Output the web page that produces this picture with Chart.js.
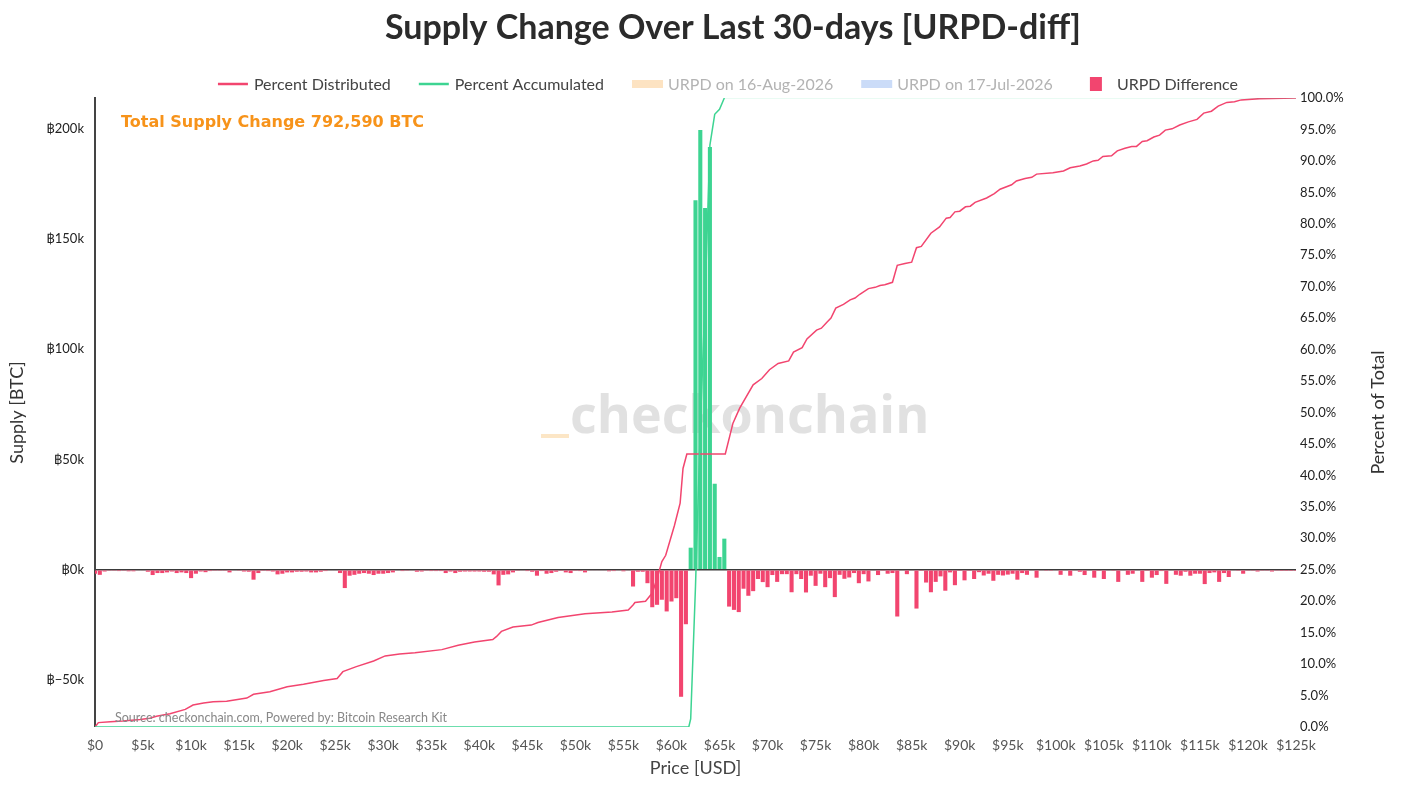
<!DOCTYPE html>
<html>
<head>
<meta charset="utf-8">
<script src="https://cdn.jsdelivr.net/npm/chart.js@4.4.1/dist/chart.umd.min.js"></script>
<style>
  html, body { margin: 0; padding: 0; background: #fff; }
  #wrap { width: 1406px; height: 790px; }
</style>
</head>
<body>
<div id="wrap"><canvas id="chart"></canvas></div>
<script>
// URPD-diff: supply change per $500 price bin, in thousands of BTC (bin i = $500 * i)
const BIN_SIZE = 500;
const supplyDiff = [
  -1.8, -2.3, -0.8, -0.2, -0.2, -0.6, -0.2, -0.7, -0.7, -0.3,
  -0.3, -0.9, -2.4, -1.5, -1.5, -1.2, -0.8, -1.5, -1.2, -1.5,
  -3.8, -1.8, -0.8, -1.1, -0.6, -0.2, -0.2, -0.2, -1.2, -0.3,
  -0.2, -0.8, -0.9, -4.5, -1.5, -0.5, -0.6, -0.8, -2.1, -1.8,
  -1.2, -1.2, -0.9, -0.9, -0.8, -1.2, -1.2, -0.9, -0.6, -0.3,
  -0.3, -1.5, -8.3, -2.7, -2.3, -1.8, -1.5, -1.8, -2.4, -1.8,
  -1.8, -1.5, -1.2, -0.3, -0.6, -0.2, -0.3, -0.9, -0.8, -0.2,
  -0.6, -0.6, -0.6, -1.5, -0.8, -1.5, -0.9, -0.8, -0.8, -0.8,
  -0.8, -0.9, -0.9, -2.1, -7.1, -2.3, -2.1, -1.2, -0.2, -0.3,
  -0.6, -0.9, -2.7, -0.6, -1.8, -1.5, -0.9, -0.5, -1.2, -1.5,
  -0.5, -0.6, -1.2, -0.3, -0.3, -0.3, -0.3, -0.7, -0.6, -0.3,
  -0.7, -0.3, -7.6, -0.9, -0.9, -6.1, -17.0, -15.9, -13.6, -18.9,
  -14.4, -12.9, -57.6, -24.7, 10.0, 167.5, 199.4, 164.0, 191.7, 39.0,
  5.8, 14.1, -16.7, -18.2, -19.2, -8.6, -11.8, -9.7, -4.2, -5.6,
  -7.9, -2.4, -5.5, -2.0, -2.0, -10.2, -2.0, -4.2, -10.3, -2.7,
  -7.3, -1.8, -7.9, -3.8, -12.4, -2.3, -4.1, -3.5, -1.5, -6.1,
  -2.0, -5.3, -0.3, -2.4, -0.2, -1.8, -1.5, -21.2, -0.3, -2.0,
  -0.3, -17.6, -0.5, -5.8, -10.2, -5.5, -3.0, -9.5, -1.2, -7.0,
  -0.5, -4.8, -0.5, -4.2, -1.1, -2.6, -1.8, -5.0, -2.3, -2.6,
  -2.2, -1.8, -4.5, -1.5, -2.3, -0.3, -3.6, -0.3, -0.5, -0.5,
  -0.3, -2.3, -0.3, -2.7, -0.3, -0.9, -2.4, -0.3, -3.6, -0.5,
  -4.2, -0.3, -0.5, -5.5, -0.3, -2.3, -1.8, -0.3, -5.5, -0.5,
  -3.6, -2.4, -0.6, -6.4, -0.3, -2.3, -2.7, -0.9, -2.7, -1.8,
  -1.8, -6.5, -1.5, -1.2, -5.5, -1.5, -3.3, -0.3, -0.5, -1.8,
  -0.2, -0.2, -0.8, -0.2, -0.2, -0.8, -0.2, -0.1, -0.1, -0.1,
  -0.1
];

// Percent Distributed (cumulative share of supply that left)
const distPrice = [
  0, 350, 1600, 2900, 4700, 5700, 6400, 7800, 9400, 10200,
  11300, 12300, 13700, 15800, 16500, 18200, 20000, 21700, 23800, 25200,
  25800, 27200, 29000, 30200, 31700, 33300, 36100, 37800, 39500, 41400,
  41800, 42300, 43500, 45400, 46100, 48200, 51000, 53800, 55500, 56000,
  56200, 57300, 58000, 58500, 59000, 59400, 60300, 60900, 61200, 61600,
  65600, 66400, 67100, 68500, 69400, 70200, 71100, 72200, 72700, 73600,
  74100, 75100, 75600, 76200, 76600, 77100, 77900, 78600, 79100, 79600,
  80500, 81200, 81700, 82200, 83000, 83500, 84300, 85000, 85500, 86000,
  87000, 87900, 88600, 89000, 89500, 90000, 90600, 91100, 91600, 92800,
  93600, 94200, 95400, 95900, 96800, 97500, 98000, 99700, 100800, 101500,
  102500, 103200, 103900, 104400, 104900, 105800, 106400, 107200, 107900, 108400,
  109000, 109500, 110200, 110800, 111400, 112100, 112900, 113800, 114700, 115400,
  116200, 116900, 117800, 118600, 119300, 121200, 125000
];
const distPct = [
  0, 0.7, 0.85, 0.95, 1.2, 1.4, 1.7, 2.1, 2.8, 3.5,
  3.8, 4.0, 4.1, 4.6, 5.2, 5.6, 6.4, 6.8, 7.4, 7.7,
  8.8, 9.6, 10.5, 11.3, 11.6, 11.8, 12.3, 13.0, 13.5, 13.9,
  14.4, 15.2, 15.9, 16.2, 16.6, 17.4, 18.0, 18.3, 18.6, 19.4,
  19.8, 20.0, 21.3, 23.6, 26.3, 27.3, 32.0, 35.6, 41.1, 43.4,
  43.4, 48.3, 50.7, 54.4, 55.4, 56.8, 57.8, 58.2, 59.6, 60.3,
  61.7, 63.1, 63.4, 64.4, 65.0, 66.6, 67.2, 67.9, 68.2, 68.8,
  69.7, 69.9, 70.2, 70.3, 70.7, 73.4, 73.7, 73.9, 76.2, 76.4,
  78.5, 79.5, 80.9, 81.0, 81.9, 82.0, 82.7, 82.8, 83.4, 84.1,
  84.8, 85.5, 86.2, 86.8, 87.2, 87.4, 87.9, 88.1, 88.4, 88.9,
  89.2, 89.5, 90.0, 90.1, 90.7, 90.8, 91.6, 92.0, 92.3, 92.3,
  93.1, 93.2, 93.8, 94.1, 94.9, 95.1, 95.7, 96.2, 96.6, 97.6,
  97.9, 98.7, 99.3, 99.4, 99.7, 99.9, 100
];

// Percent Accumulated (cumulative share of supply that arrived)
const accPrice = [0, 61800, 62000, 62500, 63000, 63500, 64000, 64500, 65000, 65500, 125000];
const accPct   = [0, 0, 1.3, 22.4, 47.6, 68.3, 92.5, 97.4, 98.2, 100, 100];

const supplyTicks = [-50, 0, 50, 100, 150, 200];
const totalChange = '792,590';

const FONT = "Lato, 'DejaVu Sans', sans-serif";
const RED = '#f2456f';
const GREEN = '#3dd492';

const barData = supplyDiff.map((v, i) => ({ x: i * BIN_SIZE, y: v }));
const distData = distPrice.map((p, i) => ({ x: p, y: distPct[i] }));
const accData = accPrice.map((p, i) => ({ x: p, y: accPct[i] }));

const legendItems = [
  { label: 'Percent Distributed', kind: 'line', color: RED, on: true },
  { label: 'Percent Accumulated', kind: 'line', color: GREEN, on: true },
  { label: 'URPD on 16-Aug-2026', kind: 'band', color: '#fde3c2', on: false },
  { label: 'URPD on 17-Jul-2026', kind: 'band', color: '#cbdcf8', on: false },
  { label: 'URPD Difference', kind: 'square', color: RED, on: true }
];

const decor = {
  id: 'decor',
  beforeDatasetsDraw(chart) {
    const { ctx, chartArea: a } = chart;
    ctx.save();
    ctx.font = `bold 52px 'Open Sans', ${FONT}`;
    ctx.textBaseline = 'alphabetic';
    const left = 570;
    const base = a.top + 335;
    ctx.fillStyle = 'rgba(205,205,205,0.6)';
    ctx.fillText('checkonchain', left, base);
    ctx.fillStyle = 'rgba(250,214,160,0.6)';
    ctx.fillRect(left - 29, base + 1, 28, 4);
    ctx.restore();
  },
  afterDatasetsDraw(chart) {
    const { ctx, chartArea: a } = chart;
    ctx.save();
    ctx.font = "bold 16px 'DejaVu Sans', sans-serif";
    ctx.fillStyle = '#f7931a';
    ctx.textBaseline = 'middle';
    ctx.fillText(`Total Supply Change ${totalChange} BTC`, a.left + 26, a.top + 25);
    ctx.font = `12.5px ${FONT}`;
    ctx.fillStyle = '#888';
    ctx.fillText('Source: checkonchain.com, Powered by: Bitcoin Research Kit', a.left + 20, a.bottom - 9);
    ctx.restore();
  },
  afterDraw(chart) {
    const { ctx, chartArea: a } = chart;
    ctx.save();
    // title
    ctx.font = `bold 34px ${FONT}`;
    ctx.fillStyle = '#2b2b2b';
    ctx.textAlign = 'center';
    ctx.textBaseline = 'middle';
    ctx.fillText('Supply Change Over Last 30-days [URPD-diff]', 733, 28);
    // right axis title reads bottom-to-top like the left one
    ctx.save();
    ctx.translate(1378, (a.top + a.bottom) / 2);
    ctx.rotate(-Math.PI / 2);
    ctx.font = `18px ${FONT}`;
    ctx.fillStyle = '#333';
    ctx.fillText('Percent of Total', 0, 0);
    ctx.restore();
    // legend
    ctx.font = `16px ${FONT}`;
    ctx.textAlign = 'left';
    const boxW = 30, gap = 6, spacing = 28;
    const widths = legendItems.map(it => boxW + gap + ctx.measureText(it.label).width);
    const total = widths.reduce((s, v) => s + v, 0) + spacing * (legendItems.length - 1);
    let x = 728 - total / 2;
    const y = 84;
    legendItems.forEach((it, i) => {
      if (it.kind === 'line') {
        ctx.strokeStyle = it.color;
        ctx.lineWidth = 2.5;
        ctx.beginPath();
        ctx.moveTo(x, y);
        ctx.lineTo(x + boxW, y);
        ctx.stroke();
      } else if (it.kind === 'band') {
        ctx.fillStyle = it.color;
        ctx.fillRect(x, y - 4, boxW + 1, 8);
      } else {
        ctx.fillStyle = it.color;
        ctx.fillRect(x + 9, y - 7, 12, 14);
      }
      ctx.fillStyle = it.on ? '#444' : '#b3b3b3';
      ctx.fillText(it.label, x + boxW + gap, y + 1);
      x += widths[i] + spacing;
    });
    ctx.restore();
  }
};

new Chart(document.getElementById('chart'), {
  data: {
    datasets: [
      {
        type: 'line',
        label: 'Percent Distributed',
        data: distData,
        yAxisID: 'y1',
        borderColor: RED,
        borderWidth: 1.5,
        pointRadius: 0,
        tension: 0,
        clip: 0,
        order: 1
      },
      {
        type: 'line',
        label: 'Percent Accumulated',
        data: accData,
        yAxisID: 'y1',
        borderColor: GREEN,
        borderWidth: 1.5,
        pointRadius: 0,
        tension: 0,
        clip: 0,
        order: 0,
        // flat run along the 100% edge is barely visible in the original
        segment: {
          borderColor: c => c.p0.parsed.y >= 100 && c.p1.parsed.y >= 100 ? 'rgba(61,212,146,0.15)' : undefined
        }
      },
      {
        type: 'bar',
        label: 'URPD Difference',
        data: barData,
        yAxisID: 'y',
        backgroundColor: barData.map(d => d.y >= 0 ? GREEN : RED),
        borderWidth: 0,
        barPercentage: 0.85,
        categoryPercentage: 1,
        order: 2
      }
    ]
  },
  options: {
    responsive: true,
    maintainAspectRatio: false,
    animation: false,
    layout: { padding: { top: 98, left: 0, right: 0, bottom: 0 } },
    plugins: {
      legend: { display: false },
      title: { display: false },
      tooltip: { enabled: false }
    },
    scales: {
      x: {
        type: 'linear',
        min: 0,
        max: 125000,
        offset: false,
        afterFit: s => { s.height = 63; },
        grid: { display: false, drawTicks: false },
        border: { display: false },
        ticks: {
          stepSize: 5000,
          autoSkip: false,
          maxRotation: 0,
          padding: 10,
          color: '#555',
          font: { family: FONT, size: 14 },
          callback: v => v === 0 ? '$0' : `$${v / 1000}k`
        },
        title: {
          display: true,
          text: 'Price [USD]',
          color: '#444',
          font: { family: FONT, size: 18 },
          padding: { top: 4, bottom: 11 }
        }
      },
      y: {
        position: 'left',
        min: -71.3,
        max: 213.9,
        z: 1,
        afterFit: s => { s.width = 95; },
        afterBuildTicks: s => { s.ticks = supplyTicks.map(v => ({ value: v })); },
        grid: {
          drawTicks: false,
          color: c => c.tick && c.tick.value === 0 ? '#3a3a3a' : 'rgba(0,0,0,0)',
          lineWidth: c => c.tick && c.tick.value === 0 ? 1.5 : 0
        },
        border: { display: true, color: '#444', width: 2 },
        ticks: {
          padding: 11,
          color: '#222',
          font: { family: FONT, size: 13 },
          callback: v => `฿${v < 0 ? '\u2212' : ''}${Math.abs(v)}k`
        },
        title: {
          display: true,
          text: 'Supply [BTC]',
          color: '#333',
          font: { family: FONT, size: 18 },
          padding: { top: 6, bottom: 4 }
        }
      },
      y1: {
        position: 'right',
        min: 0,
        max: 100,
        afterFit: s => { s.width = 110; },
        grid: { display: false, drawTicks: false },
        border: { display: false },
        ticks: {
          stepSize: 5,
          padding: 4,
          color: '#222',
          font: { family: FONT, size: 13 },
          callback: v => `${v.toFixed(1)}%`
        }
      }
    }
  },
  plugins: [decor]
});
</script>
</body>
</html>
